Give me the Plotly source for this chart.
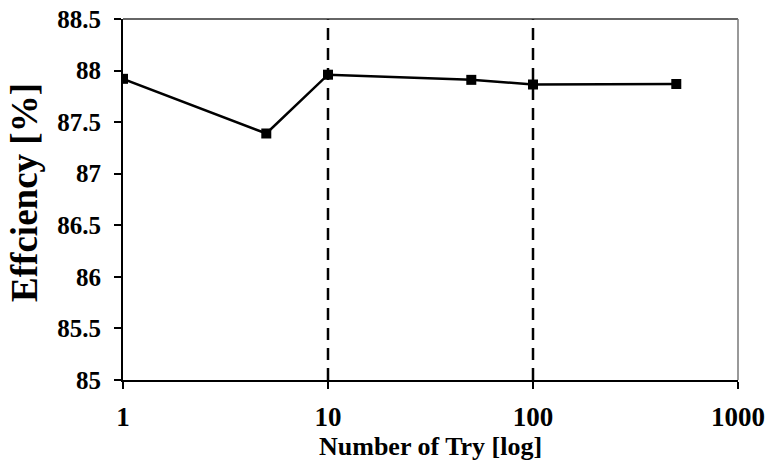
import plotly.graph_objects as go

tries = [1, 5, 10, 50, 100, 500]
efficiency = [87.92, 87.39, 87.96, 87.91, 87.865, 87.87]
x_tick_vals = [1, 10, 100, 1000]
x_tick_text = ["1", "10", "100", "1000"]
y_tick_vals = [85, 85.5, 86, 86.5, 87, 87.5, 88, 88.5]
y_tick_text = ["85", "85.5", "86", "86.5", "87", "87.5", "88", "88.5"]
dashed_x = [10, 100]

FONT = "Liberation Serif"

fig = go.Figure()
for xv in dashed_x:
    fig.add_trace(go.Scatter(x=[xv, xv], y=[85, 88.5], mode="lines",
                             line=dict(color="black", width=2.5, dash="12px,8px"),
                             showlegend=False, hoverinfo="skip"))
fig.add_trace(go.Scatter(x=tries, y=efficiency, mode="lines+markers",
                         line=dict(color="black", width=2.5),
                         marker=dict(symbol="square", size=10, color="black"),
                         showlegend=False))

fig.update_layout(
    width=769, height=465,
    margin=dict(l=123, r=31, t=19, b=85),
    paper_bgcolor="white", plot_bgcolor="white",
    font=dict(family=FONT, color="black"),
    xaxis=dict(type="log", range=[0, 3], tickmode="array", tickvals=x_tick_vals, ticktext=x_tick_text,
               showgrid=False, zeroline=False, showline=True, linecolor="black", linewidth=2,
               ticks="outside", ticklen=7, tickwidth=2, tickcolor="black",
               ticklabelstandoff=5, automargin=False,
               tickfont=dict(family=FONT, size=27, color="black", weight="bold"),
               mirror=False),
    yaxis=dict(range=[85, 88.5], tickmode="array", tickvals=y_tick_vals, ticktext=y_tick_text,
               showgrid=False, zeroline=False, showline=True, linecolor="black", linewidth=2,
               ticks="outside", ticklen=7, tickwidth=2, tickcolor="black",
               ticklabelstandoff=8, automargin=False,
               tickfont=dict(family=FONT, size=25, color="black", weight="bold"),
               mirror=False),
    shapes=[
        dict(type="line", xref="paper", yref="paper", x0=0, x1=1, y0=1, y1=1,
             line=dict(color="#333333", width=1.5)),
        dict(type="line", xref="paper", yref="paper", x0=1, x1=1, y0=0, y1=1,
             line=dict(color="#777777", width=1.5)),
    ],
    annotations=[
        dict(text="Number of Try [log]", xref="paper", yref="paper", x=0.5, y=-0.185,
             xanchor="center", yanchor="middle", showarrow=False,
             font=dict(family=FONT, size=26, color="black", weight="bold")),
        dict(text="Effciency [%]", xref="paper", yref="paper", x=-0.16, y=0.52,
             xanchor="center", yanchor="middle", showarrow=False, textangle=-90,
             font=dict(family=FONT, size=37, color="black", weight="bold")),
    ],
)

fig.write_html("out.html")
